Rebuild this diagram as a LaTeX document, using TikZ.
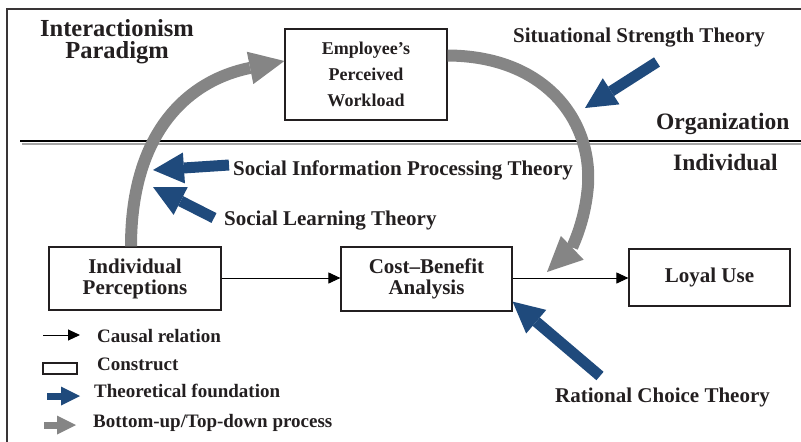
\documentclass[tikz,border=0pt]{standalone}
\usepackage{fontspec}
\setmainfont{Liberation Serif}
\usetikzlibrary{arrows.meta,calc}
\definecolor{tblue}{HTML}{1F4A7C}
\definecolor{pgray}{HTML}{858585}
\definecolor{ink}{HTML}{231F20}
\begin{document}
\begin{tikzpicture}[x=1pt,y=-1pt,
  every node/.style={text=ink},
  construct/.style={draw=ink, line width=1.2pt, inner sep=0pt, align=center},
  causal/.style={draw=black, line width=1pt, -{Triangle[length=12pt,width=11pt]}},
  theory/.style={draw=tblue, line width=11pt, -{Triangle[length=31pt,width=31pt,line width=0pt]}},
  process/.style={draw=pgray, line width=12pt, -{Triangle[length=35pt,width=33pt,line width=0pt]}},
  ltheory/.style={draw=tblue, line width=7pt, -{Triangle[length=19pt,width=19pt,line width=0pt]}},
  lprocess/.style={draw=pgray, line width=7pt, -{Triangle[length=19pt,width=19pt,line width=0pt]}},
  lbl/.style={anchor=base west, inner sep=0pt, font=\bfseries\fontsize{21}{21}\selectfont},
  leg/.style={anchor=base west, inner sep=0pt, font=\bfseries\fontsize{19}{19}\selectfont},
  frame/.style={draw=ink!90, line width=1.5pt}]
\useasboundingbox (0,0) rectangle (801,442);

% frame and level separator
\draw[frame] (7,442) -- (7,9) -- (801,9);
\draw[draw=gray!70, line width=2pt] (22,144) -- (801,144);
\draw[draw=black, line width=2pt] (20,141) -- (801,141);

% titles
\node[anchor=base, inner sep=0pt, align=center, font=\bfseries\fontsize{24.5}{21.7}\selectfont] (para) at (117,58.5) {Interactionism\\Paradigm};
\node[lbl, font=\bfseries\fontsize{23.5}{23.5}\selectfont] (org) at (656,129) {Organization};
\node[lbl, font=\bfseries\fontsize{23.5}{23.5}\selectfont] (ind) at (673,170) {Individual};

% constructs
\node[construct, minimum width=162pt, minimum height=91pt, font=\bfseries\fontsize{18}{26}\selectfont] (emp) at (366,74.5) {Employee's\\Perceived\\Workload};
\node[construct, minimum width=172pt, minimum height=63pt, font=\bfseries\fontsize{21}{21}\selectfont] (ip) at (135,278.5) {Individual\\Perceptions};
\node[construct, minimum width=171pt, minimum height=64pt, font=\bfseries\fontsize{21}{21}\selectfont] (cba) at (426.5,279) {Cost--Benefit\\Analysis};
\node[construct, minimum width=161pt, minimum height=57pt, font=\bfseries\fontsize{21}{21}\selectfont] (loyal) at (709.5,277.5) {Loyal Use};

% causal relations
\draw[causal] (ip.east |- 0,278) -- (cba.west |- 0,278);
\draw[causal] (cba.east |- 0,278) -- (loyal.west |- 0,278);

% bottom-up / top-down processes
\coordinate (upTip) at ([yshift=13.5pt]emp.west);
\coordinate (downTip) at (547,272);
\draw[process] ([xshift=-4pt]ip.north) .. controls (131,130) and (190,80) .. (upTip);
\draw[process] ([yshift=19pt]emp.east) .. controls (545,56) and (592,120) .. (588,185)
  .. controls (585,225) and (570,250) .. (downTip);

% theory labels
\node[lbl] (sst) at (513,42) {Situational Strength Theory};
\node[lbl] (sip) at (233,175) {Social Information Processing Theory};
\node[lbl] (slt) at (224,225) {Social Learning Theory};
\node[lbl] (rct) at (555,402) {Rational Choice Theory};

% theoretical foundations
\coordinate (sstTail) at (657,62);
\coordinate (sstTip) at (585,108);
\coordinate (sipTail) at (229,165);
\coordinate (sipTip) at (153,170);
\coordinate (sltTail) at (214,218);
\coordinate (sltTip) at (153,187);
\coordinate (rctTail) at (600,376);
\coordinate (rctTip) at ([yshift=10pt]cba.south east);
\draw[theory] (sstTail) -- (sstTip);
\draw[theory] (sipTail) -- (sipTip);
\draw[theory] (sltTail) -- (sltTip);
\draw[theory] (rctTail) -- (rctTip);

% legend
\coordinate (l1a) at (43,335);
\coordinate (l1b) at (80,335);
\draw[causal] (l1a) -- (l1b);
\node[leg] (lt1) at (97,342) {Causal relation};
\node[draw=ink, line width=1.2pt, minimum width=34pt, minimum height=11pt, inner sep=0pt] (lbox) at (60,368.5) {};
\node[leg] (lt2) at (97,370) {Construct};
\coordinate (l3a) at (47,396);
\coordinate (l3b) at (80,396);
\draw[ltheory] (l3a) -- (l3b);
\node[leg] (lt3) at (94,397) {Theoretical foundation};
\coordinate (l4a) at (44,425);
\coordinate (l4b) at (76,425);
\draw[lprocess] (l4a) -- (l4b);
\node[leg] (lt4) at (93,427) {Bottom-up/Top-down process};
\end{tikzpicture}
\end{document}
